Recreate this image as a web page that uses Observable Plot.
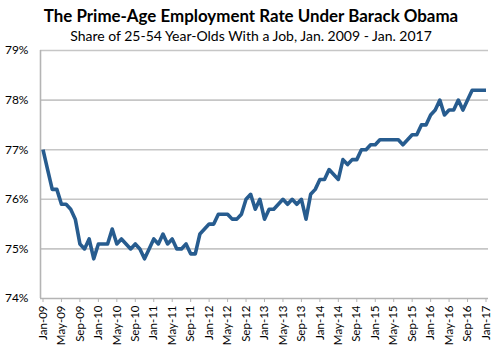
<!DOCTYPE html>
<html>
<head>
<meta charset="utf-8">
<script src="https://cdn.jsdelivr.net/npm/d3@7"></script>
<script src="https://cdn.jsdelivr.net/npm/@observablehq/plot@0.6"></script>
<style>
  html, body { margin: 0; padding: 0; background: #fff; }
  #wrap { position: relative; width: 502px; height: 357px; overflow: hidden; font-family: Lato, "Open Sans", sans-serif; }
  #title { height: 25px; line-height: 25px; padding-top: 3px; text-align: center; font-weight: bold; font-size: 16.9px; color: #000; }
  #subtitle { height: 16px; line-height: 16px; text-align: center; font-size: 14px; color: #000; }
  #chart { position: absolute; left: 0; top: 38px; }
</style>
</head>
<body>
<div id="wrap">
  <div id="title">The Prime-Age Employment Rate Under Barack Obama</div>
  <div id="subtitle">Share of 25-54 Year-Olds With a Job, Jan. 2009 - Jan. 2017</div>
  <div id="chart"></div>
</div>
<script>
// Monthly prime-age employment rate (%), Jan 2009 .. Jan 2017
const rate = [
  77.0, 76.6, 76.2, 76.2, 75.9, 75.9, 75.8, 75.6, 75.1, 75.0, 75.2, 74.8, // 2009
  75.1, 75.1, 75.1, 75.4, 75.1, 75.2, 75.1, 75.0, 75.1, 75.0, 74.8, 75.0, // 2010
  75.2, 75.1, 75.3, 75.1, 75.2, 75.0, 75.0, 75.1, 74.9, 74.9, 75.3, 75.4, // 2011
  75.5, 75.5, 75.7, 75.7, 75.7, 75.6, 75.6, 75.7, 76.0, 76.1, 75.8, 76.0, // 2012
  75.6, 75.8, 75.8, 75.9, 76.0, 75.9, 76.0, 75.9, 76.0, 75.6, 76.1, 76.2, // 2013
  76.4, 76.4, 76.6, 76.5, 76.4, 76.8, 76.7, 76.8, 76.8, 77.0, 77.0, 77.1, // 2014
  77.1, 77.2, 77.2, 77.2, 77.2, 77.2, 77.1, 77.2, 77.3, 77.3, 77.5, 77.5, // 2015
  77.7, 77.8, 78.0, 77.7, 77.8, 77.8, 78.0, 77.8, 78.0, 78.2, 78.2, 78.2, // 2016
  78.2                                                                     // Jan 2017
];
const xTickLabels = [
  "Jan-09","May-09","Sep-09","Jan-10","May-10","Sep-10","Jan-11","May-11","Sep-11",
  "Jan-12","May-12","Sep-12","Jan-13","May-13","Sep-13","Jan-14","May-14","Sep-14",
  "Jan-15","May-15","Sep-15","Jan-16","May-16","Sep-16","Jan-17"
];
const yTicks = [74, 75, 76, 77, 78, 79];
const monthsPerTick = 4;

const data = rate.map((v, i) => ({month: i, rate: v}));
const xTicks = xTickLabels.map((_, i) => i * monthsPerTick);

const chart = Plot.plot({
  width: 502,
  height: 319,
  marginLeft: 40,
  marginRight: 14,
  marginTop: 12,
  marginBottom: 59,
  style: {fontFamily: "Lato, 'Open Sans', sans-serif", fontSize: "12px", color: "#000", background: "transparent"},
  x: {domain: [0, (xTickLabels.length - 1) * monthsPerTick], inset: 2.5, label: null},
  y: {domain: [74, 79], label: null},
  marks: [
    Plot.ruleY(yTicks.slice(1), {stroke: "#c6c6c6", strokeWidth: 1.6, strokeOpacity: 1}),
    Plot.ruleY([74], {stroke: "#b4b4b4", strokeWidth: 1.6}),
    Plot.ruleX([0], {stroke: "#b4b4b4", strokeWidth: 1.6, dx: -2.5}),
    Plot.axisY({ticks: yTicks, tickSize: 0, tickPadding: 12, tickFormat: d => d + "%", fontSize: 12, label: null}),
    Plot.axisX({ticks: xTicks, tickSize: 4, tickPadding: 3, tickRotate: -90, label: null,
      tickFormat: d => xTickLabels[d / monthsPerTick], stroke: "#b4b4b4", fontSize: 11.5}),
    Plot.line(data, {x: "month", y: "rate", stroke: "#275c8f", strokeWidth: 3.6,
      strokeLinejoin: "round", strokeLinecap: "butt"})
  ]
});
document.getElementById("chart").appendChild(chart);
</script>
</body>
</html>
